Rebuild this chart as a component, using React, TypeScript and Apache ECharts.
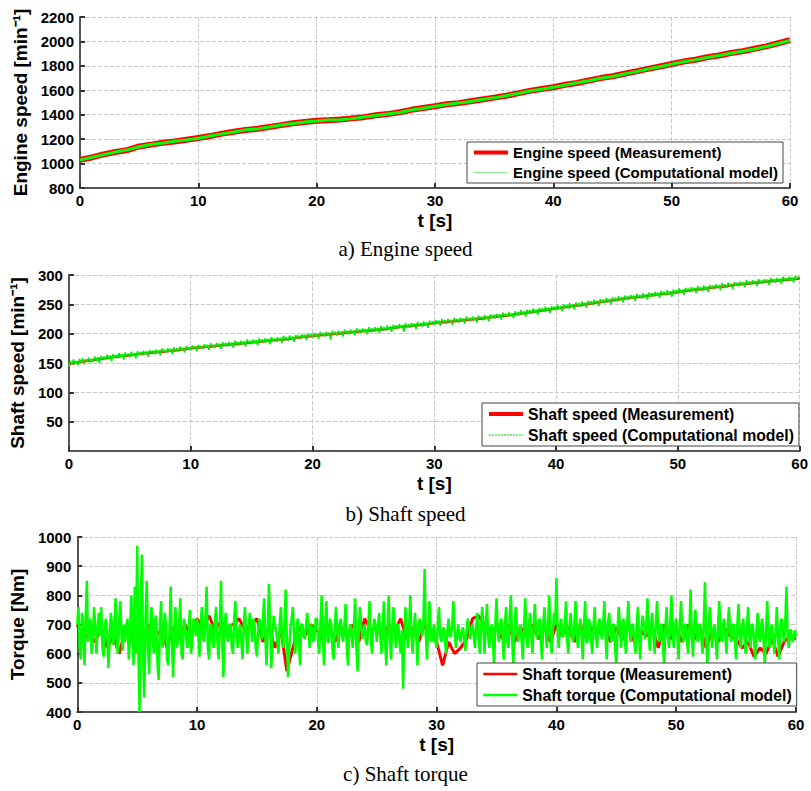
import React, { useEffect, useRef } from "react";
import * as echarts from "echarts";

// ---------- data ----------
const X_TICKS_MAX = 60;

// Engine speed, 1 s step
const engineMeas = [
  1030, 1050, 1075, 1095, 1110, 1140, 1155, 1170, 1180, 1195,
  1210, 1225, 1245, 1260, 1275, 1285, 1300, 1315, 1330, 1340,
  1350, 1355, 1360, 1370, 1380, 1395, 1405, 1420, 1440, 1455,
  1470, 1485, 1495, 1510, 1525, 1540, 1555, 1575, 1595, 1610,
  1625, 1645, 1660, 1680, 1700, 1715, 1735, 1755, 1775, 1795,
  1815, 1835, 1850, 1870, 1885, 1905, 1920, 1940, 1960, 1985, 2010,
];
const engineModel = [
  1028, 1051, 1073, 1094, 1112, 1138, 1156, 1168, 1182, 1194,
  1208, 1226, 1243, 1259, 1276, 1284, 1299, 1316, 1328, 1341,
  1348, 1356, 1359, 1368, 1381, 1393, 1406, 1418, 1439, 1453,
  1469, 1484, 1496, 1508, 1524, 1538, 1556, 1573, 1594, 1608,
  1624, 1643, 1661, 1678, 1699, 1713, 1734, 1753, 1774, 1793,
  1814, 1833, 1849, 1868, 1884, 1903, 1919, 1938, 1959, 1983, 2008,
];

// Shaft speed: measurement 1 s step, model 0.125 s step
const shaftMeas = [
  148, 152, 155, 158, 161, 163, 166, 168, 170, 172,
  175, 177, 179, 181, 183, 185, 187, 189, 191, 194,
  196, 198, 200, 202, 204, 206, 208, 211, 213, 215,
  218, 220, 222, 224, 226, 229, 231, 234, 237, 240,
  243, 246, 249, 252, 255, 258, 261, 263, 266, 268,
  271, 274, 276, 279, 281, 284, 286, 288, 290, 292, 294,
];
const shaftModel = [
  144, 154, 147, 156, 149, 153, 146, 157,
  150, 158, 148, 156, 153, 159, 151, 157,
  152, 161, 154, 160, 150, 162, 156, 161,
  155, 164, 157, 163, 153, 165, 159, 164,
  158, 167, 160, 165, 156, 168, 162, 166,
  160, 169, 162, 167, 158, 170, 164, 169,
  163, 171, 165, 170, 161, 172, 167, 171,
  165, 173, 167, 172, 163, 175, 169, 172,
  167, 175, 169, 174, 165, 177, 170, 175,
  169, 178, 171, 176, 168, 179, 173, 177,
  172, 180, 174, 179, 170, 181, 176, 179,
  174, 182, 176, 181, 172, 184, 178, 181,
  176, 184, 178, 183, 174, 185, 180, 184,
  178, 186, 180, 185, 176, 188, 182, 186,
  180, 188, 182, 187, 178, 190, 184, 188,
  182, 190, 184, 189, 180, 192, 186, 190,
  184, 192, 186, 191, 182, 194, 188, 192,
  186, 194, 188, 193, 184, 196, 190, 194,
  188, 197, 190, 195, 186, 198, 192, 197,
  191, 199, 193, 198, 189, 200, 195, 199,
  193, 201, 195, 200, 191, 203, 197, 201,
  195, 203, 197, 202, 190, 205, 199, 203,
  197, 205, 199, 204, 195, 207, 201, 205,
  199, 207, 201, 206, 197, 209, 203, 207,
  201, 209, 203, 208, 199, 211, 205, 209,
  203, 211, 205, 210, 201, 213, 207, 211,
  205, 214, 207, 212, 203, 215, 209, 214,
  208, 216, 210, 215, 203, 218, 212, 216,
  210, 218, 212, 217, 208, 220, 214, 218,
  212, 221, 214, 219, 210, 222, 216, 221,
  215, 223, 217, 222, 213, 225, 219, 223,
  217, 225, 219, 224, 215, 227, 221, 225,
  219, 227, 221, 226, 217, 229, 223, 227,
  221, 229, 223, 228, 219, 231, 225, 229,
  223, 232, 225, 230, 221, 233, 227, 232,
  226, 234, 228, 233, 224, 236, 230, 234,
  228, 237, 230, 235, 226, 238, 232, 237,
  231, 240, 233, 238, 229, 241, 235, 240,
  234, 243, 236, 241, 232, 244, 238, 243,
  237, 246, 239, 244, 235, 247, 241, 246,
  240, 249, 242, 247, 238, 250, 244, 249,
  243, 252, 245, 250, 241, 253, 247, 252,
  246, 255, 248, 253, 244, 256, 250, 255,
  249, 258, 251, 256, 247, 259, 253, 258,
  252, 261, 254, 259, 250, 262, 256, 261,
  255, 264, 257, 262, 253, 265, 259, 264,
  258, 266, 260, 265, 256, 268, 262, 266,
  260, 269, 262, 267, 258, 270, 264, 269,
  263, 271, 265, 270, 261, 273, 267, 271,
  265, 274, 267, 272, 263, 275, 269, 274,
  268, 277, 270, 275, 266, 278, 272, 277,
  271, 279, 273, 278, 269, 281, 275, 279,
  273, 282, 275, 280, 271, 283, 277, 282,
  276, 284, 278, 283, 274, 286, 280, 284,
  278, 287, 280, 285, 276, 288, 282, 287,
  281, 289, 283, 288, 279, 291, 285, 289,
  283, 291, 285, 290, 281, 293, 287, 291,
  285, 293, 287, 292, 283, 295, 289, 293,
  287, 295, 289, 294, 285, 297, 291, 295,
  289, 297, 291, 296, 287, 298, 293, 297,
  294,
];

// Shaft torque: measurement 0.5 s step, model 0.1 s step
const torqueMeas = [
  700, 650, 670, 640, 690, 620, 660, 600, 680, 650,
  690, 640, 700, 660, 680, 620, 690, 650, 700, 660,
  720, 690, 730, 680, 710, 690, 700, 720, 680, 700,
  720, 640, 690, 620, 680, 540, 620, 690, 660, 700,
  680, 650, 700, 640, 690, 660, 700, 640, 720, 680,
  690, 650, 700, 680, 720, 650, 690, 640, 700, 680,
  640, 560, 640, 600, 620, 650, 720, 730, 700, 680,
  690, 650, 700, 640, 690, 660, 700, 650, 690, 640,
  700, 660, 690, 640, 700, 650, 690, 670, 700, 640,
  690, 650, 700, 640, 680, 660, 690, 620, 700, 650,
  690, 640, 700, 650, 690, 620, 680, 640, 690, 660,
  650, 620, 640, 590, 620, 600, 650, 590, 640, 660,
  650,
];
const torqueModel = [
  700, 760, 620, 580, 740, 690, 560, 720, 850, 640, 690, 720, 600, 650, 760, 700, 600, 680, 740, 660,
  760, 620, 590, 700, 720, 680, 550, 640, 740, 700, 630, 680, 790, 620, 600, 720, 780, 660, 610, 700,
  640, 700, 720, 580, 650, 800, 700, 560, 830, 600, 970, 620, 400, 780, 940, 580, 450, 720, 850, 620,
  530, 700, 760, 640, 600, 720, 730, 560, 510, 700, 780, 620, 640, 740, 700, 580, 560, 680, 830, 640,
  520, 680, 760, 620, 640, 700, 790, 600, 580, 720, 700, 650, 620, 680, 750, 600, 640, 720, 700, 660,
  720, 680, 590, 700, 760, 660, 640, 720, 830, 620, 580, 700, 700, 640, 620, 720, 760, 640, 580, 690,
  850, 640, 520, 700, 740, 660, 640, 700, 700, 620, 600, 720, 780, 660, 620, 680, 700, 640, 580, 700,
  760, 660, 600, 680, 740, 700, 640, 720, 700, 620, 590, 680, 720, 700, 650, 720, 790, 660, 560, 680,
  840, 700, 550, 660, 730, 700, 680, 640, 600, 700, 760, 660, 620, 700, 820, 640, 520, 620, 690, 720,
  760, 660, 600, 680, 720, 640, 560, 700, 700, 660, 650, 700, 740, 680, 620, 700, 690, 640, 660, 720,
  720, 640, 600, 700, 800, 660, 560, 700, 780, 640, 640, 720, 700, 620, 580, 690, 760, 680, 620, 700,
  720, 660, 640, 700, 770, 620, 560, 680, 700, 660, 620, 700, 790, 620, 540, 680, 760, 700, 650, 680,
  700, 640, 630, 700, 780, 660, 600, 680, 720, 700, 640, 690, 740, 660, 600, 700, 780, 640, 560, 680,
  800, 660, 580, 700, 760, 680, 620, 700, 700, 640, 600, 680, 480, 640, 760, 700, 620, 680, 800, 660,
  600, 680, 740, 660, 560, 700, 720, 680, 660, 720, 890, 660, 580, 700, 780, 660, 640, 680, 700, 640,
  620, 700, 760, 660, 640, 680, 690, 640, 600, 680, 720, 660, 660, 700, 780, 680, 620, 660, 700, 660,
  640, 680, 690, 650, 610, 680, 720, 700, 650, 680, 700, 660, 620, 690, 740, 680, 600, 680, 760, 700,
  600, 700, 770, 660, 620, 680, 700, 640, 560, 700, 790, 680, 640, 700, 720, 660, 580, 700, 760, 640,
  620, 720, 800, 660, 560, 680, 760, 700, 640, 680, 700, 640, 580, 700, 790, 660, 620, 700, 740, 660,
  600, 700, 770, 680, 650, 700, 720, 640, 580, 700, 760, 680, 620, 700, 800, 660, 600, 680, 740, 700,
  860, 680, 620, 700, 720, 660, 660, 700, 780, 640, 600, 700, 740, 660, 640, 700, 780, 660, 620, 690,
  720, 660, 580, 700, 780, 640, 640, 720, 700, 640, 600, 700, 760, 660, 620, 700, 720, 680, 650, 700,
  780, 660, 580, 700, 740, 680, 640, 700, 700, 620, 560, 680, 760, 700, 620, 680, 720, 660, 600, 700,
  780, 680, 640, 700, 700, 640, 600, 700, 760, 660, 580, 690, 730, 700, 650, 700, 790, 660, 610, 700,
  740, 660, 600, 700, 780, 680, 640, 700, 700, 620, 560, 690, 760, 660, 620, 700, 800, 680, 620, 700,
  720, 660, 580, 700, 780, 680, 640, 700, 700, 640, 600, 680, 820, 660, 590, 700, 750, 680, 640, 700,
  700, 650, 600, 700, 845, 660, 560, 680, 760, 700, 620, 680, 700, 640, 580, 700, 780, 660, 640, 700,
  720, 660, 600, 690, 760, 680, 640, 700, 700, 640, 580, 700, 770, 660, 620, 700, 720, 650, 600, 690,
  760, 660, 620, 700, 700, 640, 580, 680, 740, 660, 640, 700, 720, 640, 560, 680, 780, 660, 620, 690,
  700, 650, 600, 680, 760, 660, 580, 700, 720, 680, 640, 700, 830, 660, 620, 680, 680, 640, 650, 680,
  660,
];

const captions = ["a) Engine speed", "b) Shaft speed", "c) Shaft torque"];
const yNames = ["Engine speed [min⁻¹]", "Shaft speed [min⁻¹]", "Torque [Nm]"];

const pairs = (arr: number[], step: number) => arr.map((v, i) => [+(i * step).toFixed(3), v]);

const FONT = "'Liberation Sans', Arial, sans-serif";

export default function App() {
  const ref = useRef<HTMLDivElement>(null);
  useEffect(() => {
    document.body.style.margin = "0";
    const chart = echarts.init(ref.current!, null, { renderer: "svg" });

    const grids = [
      { left: 80, top: 17, width: 710, height: 171 },
      { left: 68, top: 275, width: 732, height: 176 },
      { left: 72, top: 537, width: 724, height: 175 },
    ];
    const yRanges = [
      { min: 800, max: 2200, interval: 200 },
      { min: 0, max: 300, interval: 50 },
      { min: 400, max: 1000, interval: 100 },
    ];
    const yGaps = [50, 36, 44];

    const axisCommon = {
      axisLine: { show: true, onZero: false, lineStyle: { color: "#555", width: 2 } },
      axisTick: { show: true, inside: true, length: 5, lineStyle: { color: "#333", width: 2 } },
      splitLine: { show: true, lineStyle: { color: "#c8c8c8", type: "dashed", width: 1 } },
    };

    const xAxes = grids.map((_, i) => ({
      type: "value",
      gridIndex: i,
      min: 0,
      max: X_TICKS_MAX,
      interval: 10,
      name: "t [s]",
      nameLocation: "middle",
      nameGap: 23,
      nameTextStyle: { fontFamily: FONT, fontWeight: "bold", fontSize: 19, color: "#000" },
      axisLabel: { fontFamily: FONT, fontWeight: "bold", fontSize: 15, color: "#000", margin: 5 },
      ...axisCommon,
    }));
    const yAxes = grids.map((_, i) => ({
      type: "value",
      gridIndex: i,
      ...yRanges[i],
      name: yNames[i],
      nameLocation: "middle",
      nameGap: yGaps[i],
      nameTextStyle: { fontFamily: FONT, fontWeight: "bold", fontSize: 19, color: "#000" },
      axisLabel: {
        fontFamily: FONT, fontWeight: "bold", fontSize: 15, color: "#000", margin: 6,
        showMinLabel: i !== 1,
        formatter: (v: number) => String(v),
      },
      ...axisCommon,
    }));

    const legendBase = {
      orient: "vertical",
      itemWidth: 34,
      itemHeight: 14,
      itemGap: 5,
      padding: [3, 5, 3, 5],
      backgroundColor: "#fff",
      borderColor: "#444",
      borderWidth: 1,
      borderRadius: 0,
    };
    const legendText = (size: number) => ({
      fontFamily: FONT, fontWeight: "bold", fontSize: size, color: "#000",
    });
    const hidden = { opacity: 0 };

    const option = {
      animation: false,
      backgroundColor: "#fff",
      grid: grids,
      xAxis: xAxes,
      yAxis: yAxes,
      legend: [
        {
          ...legendBase, left: 467, top: 142, textStyle: legendText(15),
          data: [
            { name: "Engine speed (Measurement)", itemStyle: hidden, lineStyle: { width: 4, color: "#ff0000" } },
            { name: "Engine speed (Computational model)", itemStyle: hidden, lineStyle: { width: 1, color: "#90ee90" } },
          ],
        },
        {
          ...legendBase, left: 482, top: 403, textStyle: legendText(15.8),
          data: [
            { name: "Shaft speed (Measurement)", itemStyle: hidden, lineStyle: { width: 4, color: "#ff0000" } },
            { name: "Shaft speed (Computational model)", itemStyle: hidden, lineStyle: { width: 1, color: "#00cc00", type: [2, 1] } },
          ],
        },
        {
          ...legendBase, left: 477, top: 663, textStyle: legendText(15.8),
          data: [
            { name: "Shaft torque (Measurement)", itemStyle: hidden, lineStyle: { width: 2.5, color: "#ff0000" } },
            { name: "Shaft torque (Computational model)", itemStyle: hidden, lineStyle: { width: 2.5, color: "#00ff00" } },
          ],
        },
      ],
      series: [
        {
          name: "Engine speed (Measurement)", type: "line", xAxisIndex: 0, yAxisIndex: 0,
          data: pairs(engineMeas, 1), symbol: "none", color: "#ff0000",
          lineStyle: { width: 6, color: "#ff0000" },
        },
        {
          name: "Engine speed (Computational model)", type: "line", xAxisIndex: 0, yAxisIndex: 0,
          data: pairs(engineModel, 1), symbol: "none", color: "#00ff00",
          lineStyle: { width: 3, color: "#00ff00" },
        },
        {
          name: "Shaft speed (Measurement)", type: "line", xAxisIndex: 1, yAxisIndex: 1,
          data: pairs(shaftMeas, 1), symbol: "none", color: "#ff0000",
          lineStyle: { width: 2.5, color: "#ff0000" },
        },
        {
          name: "Shaft speed (Computational model)", type: "line", xAxisIndex: 1, yAxisIndex: 1,
          data: pairs(shaftModel, 0.125), symbol: "none", color: "#00ff00",
          lineStyle: { width: 1.5, color: "#00ee00" },
        },
        {
          name: "Shaft torque (Measurement)", type: "line", xAxisIndex: 2, yAxisIndex: 2,
          data: pairs(torqueMeas, 0.5), symbol: "none", color: "#ff0000",
          lineStyle: { width: 3, color: "#ff0000" },
        },
        {
          name: "Shaft torque (Computational model)", type: "line", xAxisIndex: 2, yAxisIndex: 2,
          data: pairs(torqueModel, 0.1), symbol: "none", color: "#00ff00",
          lineStyle: { width: 2.5, color: "#00ff00" },
        },
      ],
      graphic: captions.map((c, i) => ({
        type: "text",
        left: "center",
        top: [238, 503, 763][i],
        style: {
          text: c,
          fontFamily: "'Liberation Serif', 'Times New Roman', serif",
          fontSize: 21,
          fill: "#000",
        },
      })),
    };

    chart.setOption(option as any);
    return () => chart.dispose();
  }, []);
  return <div ref={ref} style={{ width: 811, height: 791 }} />;
}
